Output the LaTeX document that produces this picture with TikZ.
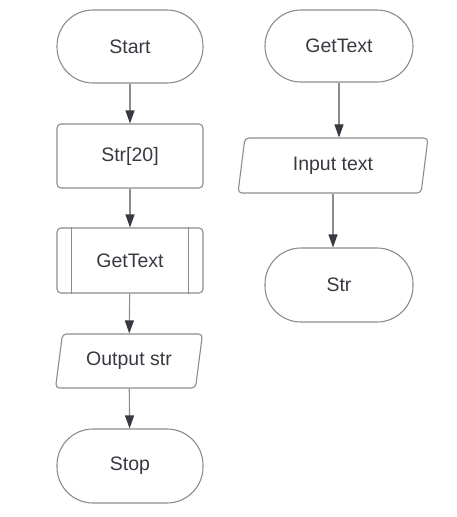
\documentclass[tikz,border=0pt]{standalone}
\usepackage{fontspec}
\setmainfont{Liberation Sans}
\usetikzlibrary{arrows.meta, shapes.geometric}

\definecolor{linegray}{HTML}{8C8C8C}
\definecolor{inkgray}{HTML}{363A40}

\tikzset{
  terminal/.style = {shape = rectangle, draw = linegray, rounded corners = 36pt,
                     minimum width = 146pt, minimum height = 73pt},
  process/.style  = {shape = rectangle, draw = linegray, rounded corners = 4pt,
                     minimum width = 146pt, minimum height = 64pt},
  io/.style       = {shape = trapezium, trapezium left angle = 74,
                     trapezium right angle = 106, trapezium stretches body,
                     draw = linegray, rounded corners = 4pt, minimum height = 54pt},
  flow/.style     = {draw = linegray, line width = 1.1pt,
                     -{Triangle[length = 13pt, width = 9pt, color = inkgray]}}
}

\begin{document}
\begin{tikzpicture}[x = 1pt, y = 1pt,
    every node/.style = {line width = 1.1pt, text = inkgray,
                         font = \fontsize{19.5}{23}\selectfont}]
        \useasboundingbox (0, 0) rectangle (457, -517);

        % ------------------------------------------------------------------------
        % Main
        \node[terminal] at (130,  -46.5) (start) {Start};
        \node[process]  at (130, -156)   (str20) {Str[20]};
        \node[process, minimum height = 65pt] at (130, -260.5) (call) {GetText};
        \node[io, minimum width = 147pt] at (129, -361) (output) {Output str};
        \node[terminal, minimum height = 74pt] at (130, -466) (stop) {Stop};

        \draw[linegray, line width = 1.1pt]
          ([xshift = 15pt]call.north west) -- ([xshift = 15pt]call.south west)
          ([xshift = -15pt]call.north east) -- ([xshift = -15pt]call.south east)
        ;

        \draw[flow]
          (start) edge (str20)
          (str20) edge (call)
          (call) edge (output)
          (output) edge (stop)
        ;

        % ------------------------------------------------------------------------
        % GetText
        \node[terminal, minimum width = 148pt, minimum height = 72pt] at (339, -46) (gettext) {GetText};
        \node[io, minimum width = 190pt, minimum height = 55pt] at (333, -165.5) (input) {Input text};
        \node[terminal, minimum width = 148pt, minimum height = 74pt] at (339, -285) (str) {Str};

        \draw[flow] (gettext.south) -- (gettext.south |- input.north);
        \draw[flow] (input.south) -- (input.south |- str.north);
      \end{tikzpicture}
\end{document}
